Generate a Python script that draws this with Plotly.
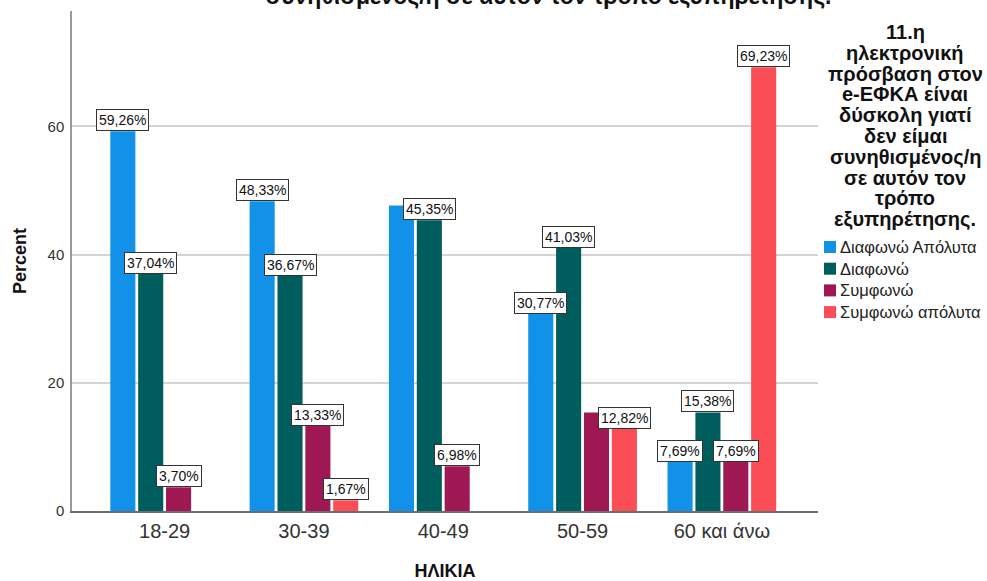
import plotly.graph_objects as go

categories = ["18-29", "30-39", "40-49", "50-59", "60 και άνω"]
series_names = ["Διαφωνώ Απόλυτα", "Διαφωνώ", "Συμφωνώ", "Συμφωνώ απόλυτα"]
diafono_apolyta = [59.26, 48.33, 47.67, 30.77, 7.69]
diafono = [37.04, 36.67, 45.35, 41.03, 15.38]
symfono = [3.70, 13.33, 6.98, 15.38, 7.69]
symfono_apolyta = [0.0, 1.67, 0.0, 12.82, 69.23]
series_values = [diafono_apolyta, diafono, symfono, symfono_apolyta]
# which data labels are visible in the original (SPSS hid overlapping / zero ones)
label_visible = [
    [True, True, False, True, True],
    [True, True, True, True, True],
    [True, True, True, False, True],
    [False, True, False, True, True],
]
colors = ["#1192e8", "#005d5d", "#9f1853", "#fa4d56"]

legend_title_lines = ["11.η", "ηλεκτρονική", "πρόσβαση στον", "e-ΕΦΚΑ είναι", "δύσκολη γιατί",
                      "δεν είμαι", "συνηθισμένος/η", "σε αυτόν τον", "τρόπο", "εξυπηρέτησης."]
chart_title = ("Clustered Bar Percent of ΗΛΙΚΙΑ by 11.η ηλεκτρονική πρόσβαση στον e-ΕΦΚΑ είναι δύσκολη γιατί δεν είμαι<br>"
               "συνηθισμένος/η σε αυτόν τον τρόπο εξυπηρέτησης.")

FONT = "Liberation Sans, Arial, sans-serif"
W, H = 987, 581
ML, MR, MT, MB = 72, 169, 11, 70
XR = [-0.665, 4.69]
BARGAP = 0.2
plot_w = W - ML - MR
plot_h = H - MT - MB
cat_px = plot_w / (XR[1] - XR[0])
slot_px = cat_px * (1 - BARGAP) / len(series_names)


def px_x(px):
    return (px - ML) / plot_w


def px_y(py):
    return (H - MB - py) / plot_h


fig = go.Figure()
for name, vals, col in zip(series_names, series_values, colors):
    fig.add_trace(go.Bar(x=categories, y=vals, name=name, marker_color=col,
                         marker_line_width=0, showlegend=False))

annotations = []
shapes = []
for k, (vals, vis) in enumerate(zip(series_values, label_visible)):
    for c, v, s in zip(categories, vals, vis):
        if not s:
            continue
        annotations.append(dict(
            x=c, y=v, xref="x", yref="y", xshift=(k - 1.5) * slot_px,
            yanchor="bottom", xanchor="center", showarrow=False,
            text=f"{v:.2f}".replace(".", ",") + "%",
            font=dict(family=FONT, size=14, color="#111"),
            bgcolor="white", bordercolor="#333", borderwidth=1, borderpad=2,
        ))

# legend title, one annotation per line to match the tight line spacing
LT_TOP, LT_STEP = 32, 20.8
for i, line in enumerate(legend_title_lines):
    annotations.append(dict(
        x=px_x(905), y=px_y(LT_TOP + i * LT_STEP), xref="paper", yref="paper",
        xanchor="center", yanchor="middle", showarrow=False,
        text="<b>" + line + "</b>",
        font=dict(family=FONT, size=20, color="#111"),
    ))

# legend entries (swatch + label)
LG_TOP, LG_STEP = 247, 21.7
for i, (name, col) in enumerate(zip(series_names, colors)):
    yc = LG_TOP + i * LG_STEP
    shapes.append(dict(
        type="rect", xref="paper", yref="paper",
        x0=px_x(824), x1=px_x(836), y0=px_y(yc + 6), y1=px_y(yc - 6),
        fillcolor=col, line=dict(width=0),
    ))
    annotations.append(dict(
        x=px_x(838), y=px_y(yc), xref="paper", yref="paper",
        xanchor="left", yanchor="middle", showarrow=False,
        text=name, font=dict(family=FONT, size=16.5, color="#222"),
    ))

annotations.append(dict(
    x=px_x(548), y=px_y(11), xref="paper", yref="paper",
    xanchor="center", yanchor="bottom", showarrow=False, align="center",
    text="<b>" + chart_title + "</b>",
    font=dict(family=FONT, size=23, color="#111"),
))

fig.update_layout(
    width=W, height=H,
    margin=dict(l=ML, r=MR, t=MT, b=MB, pad=0, autoexpand=False),
    paper_bgcolor="white", plot_bgcolor="white",
    barmode="group", bargap=BARGAP, bargroupgap=0.1,
    font=dict(family=FONT, color="#222"),
    showlegend=False,
    annotations=annotations,
    shapes=shapes,
    xaxis=dict(
        range=XR, showgrid=False, showline=True, linecolor="#6e6e6e", linewidth=1.5,
        ticks="outside", ticklen=1, tickcolor="rgba(0,0,0,0)", automargin=False,
        tickfont=dict(family=FONT, size=20, color="#333"),
        title=dict(text="<b>ΗΛΙΚΙΑ</b>", font=dict(family=FONT, size=18, color="#111"), standoff=27),
    ),
    yaxis=dict(
        range=[0, 78], tickvals=[0, 20, 40, 60], showgrid=True, gridcolor="#d4d4d4", gridwidth=1.5,
        zeroline=False, showline=True, linecolor="#9a9a9a", linewidth=1.5,
        ticks="outside", ticklen=3, tickcolor="rgba(0,0,0,0)", automargin=False,
        tickfont=dict(family=FONT, size=15, color="#333"),
        title=dict(text="<b>Percent</b>", font=dict(family=FONT, size=18, color="#111"), standoff=16),
    ),
)

fig.write_html("out.html")
